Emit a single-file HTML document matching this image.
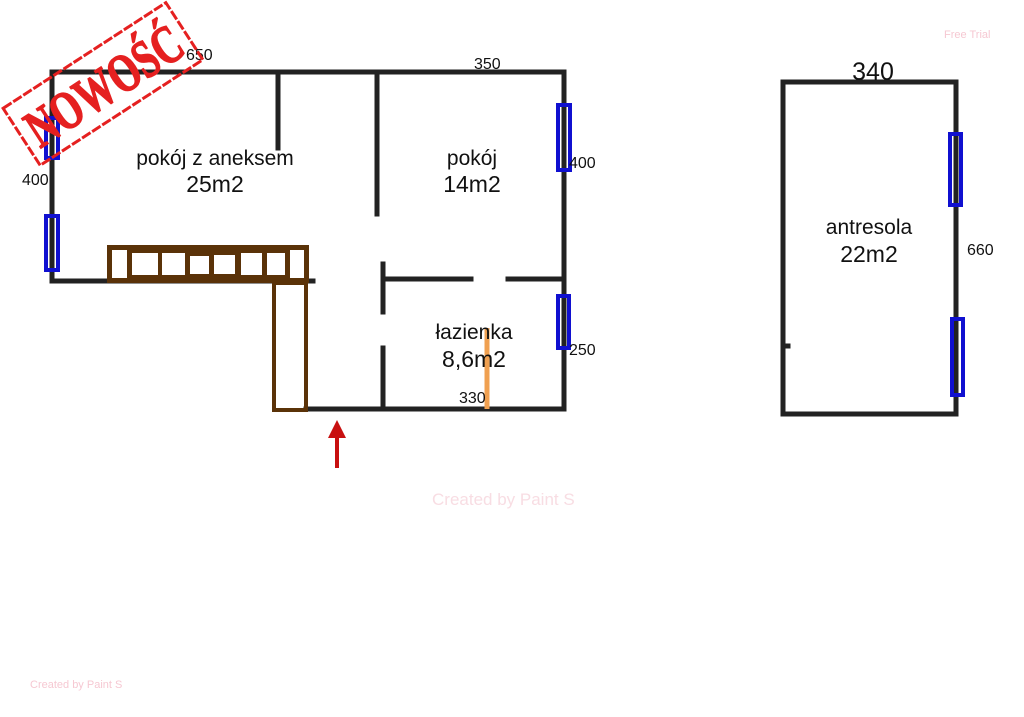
<!DOCTYPE html>
<html><head><meta charset="utf-8"><style>
html,body{margin:0;padding:0;background:#fff;}
svg{display:block;}
text{font-family:"Liberation Sans",sans-serif;fill:#111;}
</style></head><body>
<svg width="1024" height="717" viewBox="0 0 1024 717" xmlns="http://www.w3.org/2000/svg">
<g stroke="#222" stroke-width="5" fill="none" stroke-linecap="square">
<path d="M52 72 H564 V409 H306"/>
<path d="M52 72 V281 H313"/>
<path d="M278 72 V148"/>
<path d="M377 72 V214"/>
<path d="M383 264 V312"/>
<path d="M383 348 V409"/>
<path d="M383 279 H471"/>
<path d="M508 279 H564"/>
<path d="M783 82 H956 V414 H783 Z"/>
<path d="M786 346 H788"/>
</g>
<g stroke="#1010d0" stroke-width="4" fill="none">
<rect x="46" y="118" width="12" height="40"/>
<rect x="46" y="216" width="12" height="54"/>
<rect x="558" y="105" width="12" height="65"/>
<rect x="558" y="296" width="11" height="52"/>
<rect x="950" y="134" width="11" height="71"/>
<rect x="952" y="319" width="11" height="76"/>
</g>
<rect x="107" y="245" width="202" height="38" fill="#5a3208"/>
<g fill="#fff">
<rect x="112" y="250" width="15" height="28"/>
<rect x="132" y="253" width="26" height="22"/>
<rect x="162" y="253" width="23" height="22"/>
<rect x="190" y="256" width="19" height="18"/>
<rect x="214" y="255" width="21" height="19"/>
<rect x="241" y="253" width="21" height="22"/>
<rect x="267" y="253" width="18" height="22"/>
<rect x="290" y="250" width="14" height="28"/>
</g>
<rect x="274" y="283" width="32" height="127" fill="none" stroke="#5a3208" stroke-width="4"/>
<line x1="487" y1="328" x2="487" y2="409" stroke="#f0a050" stroke-width="5"/>
<line x1="337" y1="468" x2="337" y2="436" stroke="#c81010" stroke-width="4"/>
<polygon points="328,438 337,420 346,438" fill="#c81010"/>
<text x="215" y="165" font-size="21" text-anchor="middle">pokój z aneksem</text>
<text x="215" y="192" font-size="23" text-anchor="middle">25m2</text>
<text x="472" y="165" font-size="21" text-anchor="middle">pokój</text>
<text x="472" y="192" font-size="23" text-anchor="middle">14m2</text>
<text x="474" y="339" font-size="21" text-anchor="middle">łazienka</text>
<text x="474" y="367" font-size="23" text-anchor="middle">8,6m2</text>
<text x="869" y="234" font-size="21" text-anchor="middle">antresola</text>
<text x="869" y="262" font-size="23" text-anchor="middle">22m2</text>
<text x="873" y="80" font-size="25" text-anchor="middle">340</text>
<text x="474" y="69" font-size="16">350</text>
<text x="186" y="60" font-size="16">650</text>
<text x="22" y="185" font-size="16">400</text>
<text x="569" y="168" font-size="16">400</text>
<text x="569" y="355" font-size="16">250</text>
<text x="459" y="403" font-size="16">330</text>
<text x="967" y="255" font-size="16">660</text>
<text x="944" y="38" font-size="11" style="fill:#f6c8d2">Free Trial</text>
<text x="432" y="505" font-size="17" style="fill:#f8dde3">Created by Paint S</text>
<text x="30" y="688" font-size="11" style="fill:#f6c8d2">Created by Paint S</text>
<g transform="translate(103,84) rotate(-33)">
<rect x="-97" y="-34" width="194" height="68" fill="none" stroke="#e52020" stroke-width="3" stroke-dasharray="10 2"/>
<text x="0" y="20" font-size="54" font-weight="bold" text-anchor="middle" style="fill:#e52020;stroke:#e52020;stroke-width:1.5;font-family:'Liberation Serif',serif" textLength="176" lengthAdjust="spacingAndGlyphs">NOWOŚĆ</text>
</g>
</svg>
</body></html>
